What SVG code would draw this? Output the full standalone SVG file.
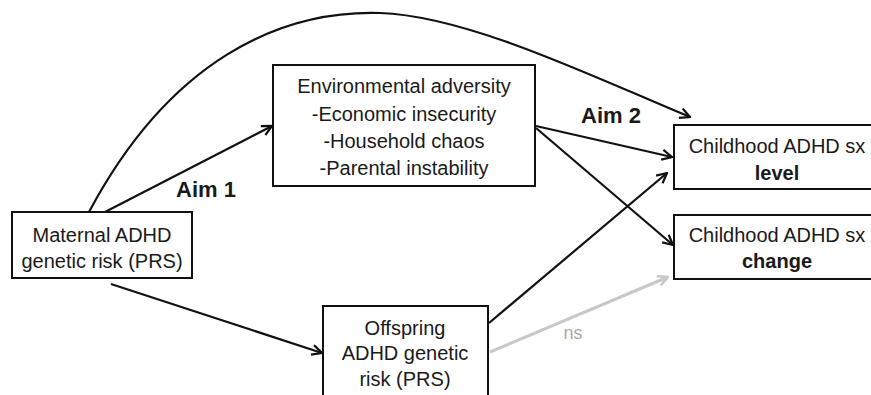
<svg xmlns="http://www.w3.org/2000/svg" width="871" height="395" viewBox="0 0 871 395">
<defs>
<style>
.box{fill:#fff;stroke:#111;stroke-width:2}
.t{font-family:"Liberation Sans",Arial,sans-serif;font-size:20px;fill:#1a1a1a;text-anchor:middle}
.b{font-weight:bold}
.e{fill:none;stroke:#111;stroke-width:2.2}
.g{fill:none;stroke:#c8c8c8;stroke-width:3}
</style>
<marker id="ah" viewBox="0 0 12 12" refX="11" refY="6" markerWidth="12" markerHeight="12" markerUnits="userSpaceOnUse" orient="auto">
<path d="M1,1 L11,6 L1,11" fill="none" stroke="#111" stroke-width="2.2"/>
</marker>
<marker id="ahg" viewBox="0 0 12 12" refX="11" refY="6" markerWidth="12" markerHeight="12" markerUnits="userSpaceOnUse" orient="auto">
<path d="M1,1 L11,6 L1,11" fill="none" stroke="#c8c8c8" stroke-width="2.6"/>
</marker>
</defs>
<rect width="871" height="395" fill="#fff"/>
<g id="connectors">
<path class="e" d="M89,212 C170,60 280,10 380,13 C470,16 600,80 690,117" marker-end="url(#ah)"/>
<line class="e" x1="105" y1="212" x2="272" y2="126" marker-end="url(#ah)"/>
<line class="e" x1="111" y1="284" x2="322" y2="353" marker-end="url(#ah)"/>
<line class="e" x1="536" y1="126" x2="672" y2="157" marker-end="url(#ah)"/>
<line class="e" x1="536" y1="128" x2="673" y2="245" marker-end="url(#ah)"/>
<line class="e" x1="489" y1="323" x2="667" y2="173" marker-end="url(#ah)"/>
<line class="g" x1="490" y1="352" x2="668" y2="277" marker-end="url(#ahg)"/>
<text class="t b" x="206" y="197" font-size="22" style="font-size:22px">Aim 1</text>
<text class="t b" x="611" y="123" style="font-size:22px">Aim 2</text>
<text class="t" x="573" y="339" style="font-size:18px;fill:#a8a8a8">ns</text>
</g>
<g id="env">
<rect class="box" x="273" y="65" width="262" height="121"/>
<text class="t" x="404" y="93">Environmental adversity</text>
<text class="t" x="404" y="121">-Economic insecurity</text>
<text class="t" x="404" y="148">-Household chaos</text>
<text class="t" x="404" y="175">-Parental instability</text>
</g>
<g id="maternal">
<rect class="box" x="12" y="212" width="180" height="66"/>
<text class="t" x="102" y="242">Maternal ADHD</text>
<text class="t" x="102" y="268">genetic risk (PRS)</text>
</g>
<g id="offspring">
<rect class="box" x="323" y="306" width="165" height="100"/>
<text class="t" x="405" y="335">Offspring</text>
<text class="t" x="405" y="360">ADHD genetic</text>
<text class="t" x="405" y="386">risk (PRS)</text>
</g>
<g id="level">
<rect class="box" x="674" y="125" width="200" height="64"/>
<text class="t" x="777" y="153">Childhood ADHD sx</text>
<text class="t b" x="777" y="180">level</text>
</g>
<g id="change">
<rect class="box" x="674" y="215" width="200" height="64"/>
<text class="t" x="777" y="242">Childhood ADHD sx</text>
<text class="t b" x="777" y="268">change</text>
</g>
</svg>
